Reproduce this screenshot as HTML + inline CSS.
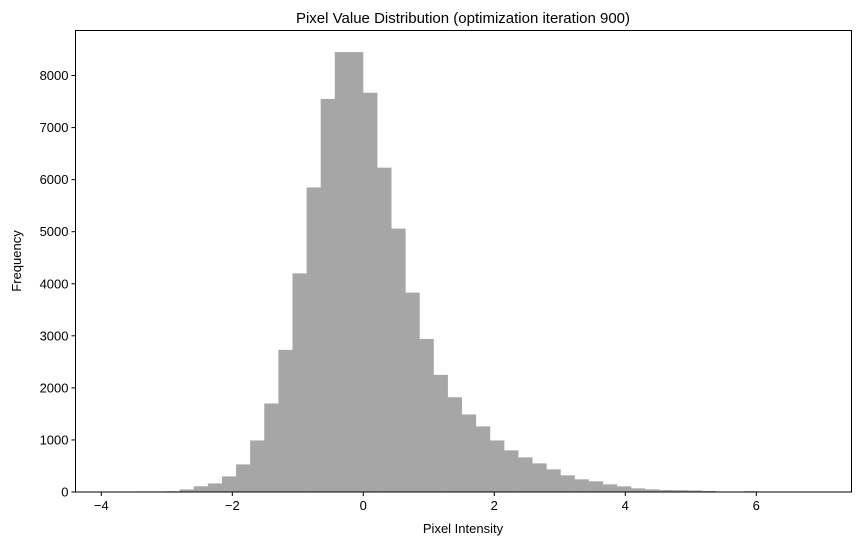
<!DOCTYPE html>
<html><head><meta charset="utf-8"><style>
body{margin:0;background:#fff;}
svg text{font-family:"Liberation Sans","DejaVu Sans",sans-serif;fill:#000;}
</style></head><body>
<svg id="chart" width="859" height="545" xmlns="http://www.w3.org/2000/svg">
<rect width="859" height="545" fill="#fff"/>
<text x="463" y="23" font-size="15" text-anchor="middle">Pixel Value Distribution (optimization iteration 900)</text>
<g id="bars"></g>
<g id="axes"></g>
<text x="463" y="533" font-size="13" text-anchor="middle">Pixel Intensity</text>
<text x="21" y="261" font-size="13" text-anchor="middle" transform="rotate(-90 21 261)">Frequency</text>
</svg>
<script>
const binStart = -3.88;
const binWidth = 0.2153;
const counts = [5,10,12,12,15,50,110,165,300,530,990,1700,2730,4200,5850,7550,8450,8450,7670,6230,5060,3830,2940,2250,1820,1490,1260,990,800,665,550,435,320,243,205,147,109,70,51,38,35,30,20,10,5,15,5,3,2,2];
const xTicks = [-4,-2,0,2,4,6];
const yTicks = [0,1000,2000,3000,4000,5000,6000,7000,8000];
const L=75.5,R=851.5,T=30.5,B=492;
const xs = v => 363.3 + v*65.5;
const ys = v => B - v*0.05206;
const NS="http://www.w3.org/2000/svg";
const bars=document.getElementById('bars'), axes=document.getElementById('axes');
function mk(tag,attrs,parent){const e=document.createElementNS(NS,tag);for(const k in attrs)e.setAttribute(k,attrs[k]);parent.appendChild(e);return e;}
counts.forEach((c,i)=>{
  const x0=xs(binStart+i*binWidth), x1=xs(binStart+(i+1)*binWidth);
  const r=mk('rect',{x:x0,y:ys(c),width:x1-x0+0.3,height:B-ys(c),fill:'#a6a6a6'},bars);
  
  
});
const frame=mk('rect',{x:L,y:T,width:R-L,height:B-T,fill:'none',stroke:'#000','stroke-width':1},axes);


xTicks.forEach(v=>{
  const x=xs(v);
  mk('line',{x1:x,x2:x,y1:B,y2:B+4,stroke:'#000'},axes);
  const t=mk('text',{x:x,y:B+18,'font-size':13,'text-anchor':'middle'},axes);
  t.textContent=v<0?'\u2212'+(-v):String(v);
  
  
});
yTicks.forEach(v=>{
  const y=ys(v);
  mk('line',{x1:L-4,x2:L,y1:y,y2:y,stroke:'#000'},axes);
  const t=mk('text',{x:L-7,y:y+4.5,'font-size':13,'text-anchor':'end'},axes);
  t.textContent=String(v);
  
  
});
</script>
</body></html>
